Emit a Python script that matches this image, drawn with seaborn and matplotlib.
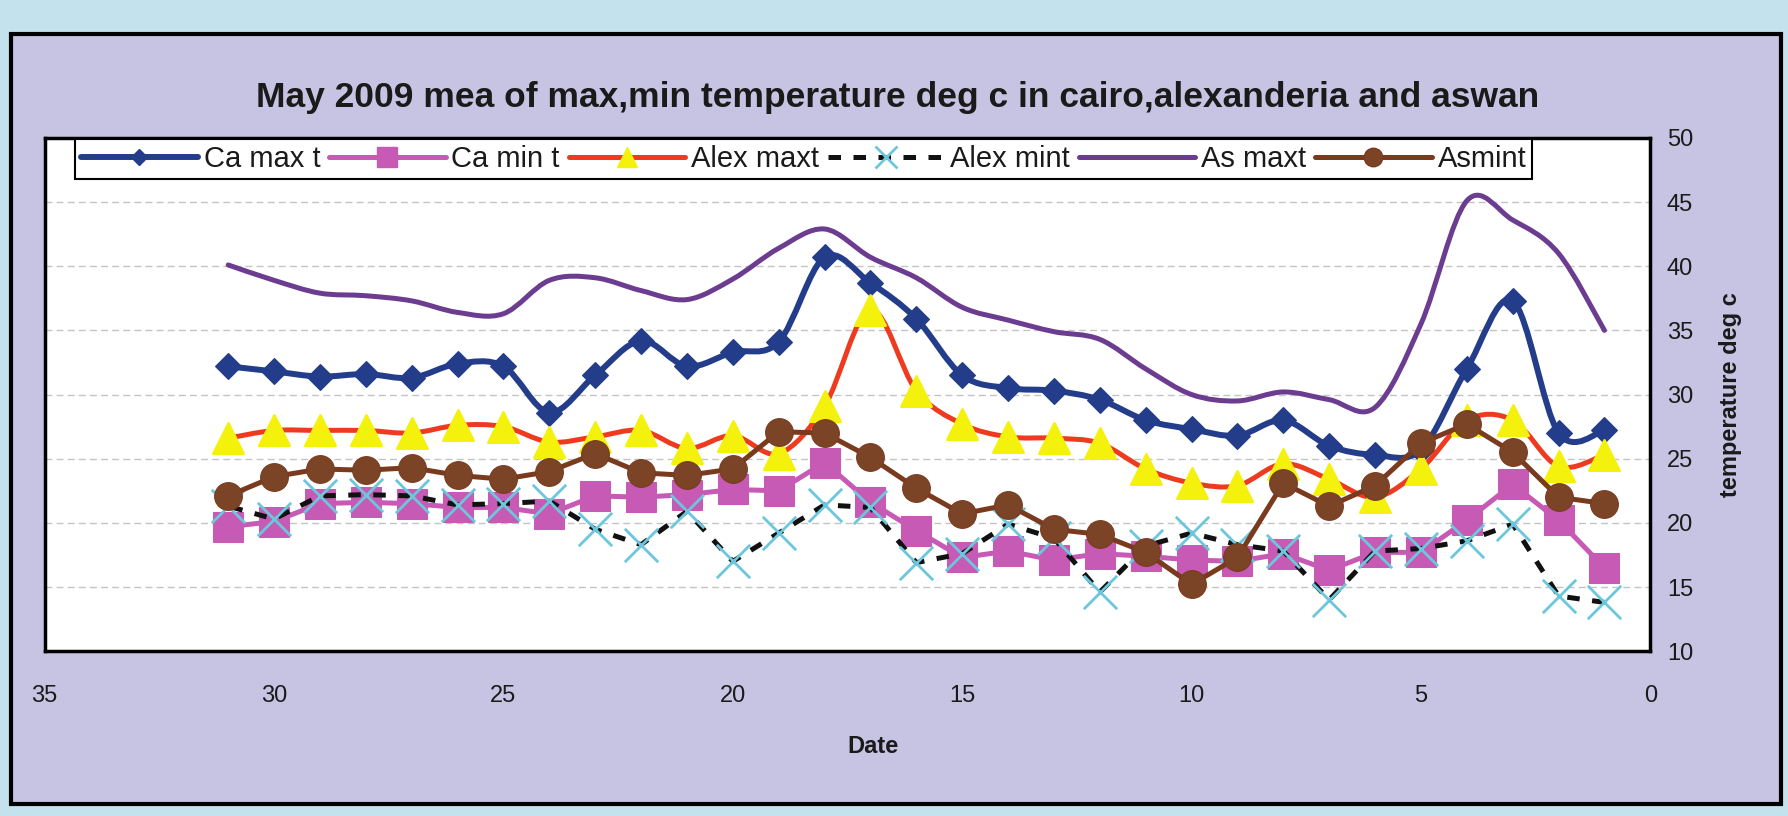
import numpy as np
import matplotlib
matplotlib.use("Agg")
import matplotlib.pyplot as plt
import seaborn as sns
from matplotlib.path import Path
from matplotlib.patches import PathPatch, Rectangle
from matplotlib.lines import Line2D

# ----------------------------- data (day 31 -> 1) ---------------------------
days = list(range(31, 0, -1))

ca_max = [32.2, 31.8, 31.4, 31.6, 31.3, 32.4, 32.2, 28.6, 31.5, 34.2, 32.2,
          33.3, 34.1, 40.7, 38.7, 35.9, 31.5, 30.5, 30.3, 29.6, 28.0, 27.3,
          26.8, 28.0, 26.0, 25.3, 25.7, 32.0, 37.3, 27.0, 27.2]
ca_min = [19.7, 20.1, 21.5, 21.6, 21.5, 21.2, 21.2, 20.7, 22.1, 22.0, 22.2,
          22.6, 22.5, 24.7, 21.6, 19.4, 17.3, 17.8, 17.1, 17.6, 17.4, 17.1,
          17.0, 17.6, 16.3, 17.7, 17.7, 20.2, 23.0, 20.2, 16.5]
alex_max = [26.6, 27.2, 27.2, 27.2, 27.0, 27.6, 27.5, 26.3, 26.7, 27.2, 25.8,
            26.8, 25.4, 29.1, 36.6, 30.3, 27.7, 26.7, 26.6, 26.2, 24.2, 23.1,
            22.9, 24.6, 23.4, 22.0, 24.2, 28.0, 28.0, 24.4, 25.3]
alex_min = [21.3, 20.3, 22.1, 22.2, 22.1, 21.4, 21.5, 21.7, 19.5, 18.3, 20.9,
            17.0, 19.2, 21.4, 21.2, 16.9, 17.6, 19.9, 18.8, 14.6, 18.2, 19.2,
            18.3, 17.8, 14.0, 17.8, 18.0, 18.6, 19.9, 14.3, 13.8]
as_max = [40.1, 38.9, 37.9, 37.7, 37.3, 36.4, 36.3, 38.9, 39.1, 38.1, 37.4,
          39.0, 41.4, 42.9, 40.7, 39.1, 36.8, 35.8, 34.9, 34.3, 32.0, 30.0,
          29.5, 30.2, 29.6, 29.0, 35.5, 45.1, 43.6, 41.0, 35.0]
as_min = [22.1, 23.6, 24.2, 24.1, 24.3, 23.7, 23.4, 24.0, 25.4, 23.9, 23.7,
          24.2, 27.1, 27.0, 25.1, 22.7, 20.7, 21.4, 19.5, 19.1, 17.7, 15.2,
          17.3, 23.1, 21.3, 22.9, 26.2, 27.7, 25.5, 22.0, 21.5]

labels = ["Ca max t", "Ca min t", "Alex maxt", "Alex mint", "As maxt", "Asmint"]
x_ticks = [0, 5, 10, 15, 20, 25, 30, 35]
y_ticks = [10, 15, 20, 25, 30, 35, 40, 45, 50]

# colours
NAVY = "#233d8a"
PINK = "#c65ab4"
RED = "#ee3b1f"
YELLOW = "#f4f20c"
CYAN = "#6cc6dc"
PURPLE = "#6b3c90"
BROWN = "#7a3a1e"
BROWN_FILL = "#7b4426"
LAVENDER = "#c7c4e3"
OUTER = "#c4e2ee"
INK = "#1a1a1a"


def smooth_path(x, y):
    """Excel-style smoothed line: cubic Bezier through every data point."""
    x = np.asarray(x, float)
    y = np.asarray(y, float)
    n = len(x)
    verts = [(x[0], y[0])]
    codes = [Path.MOVETO]
    for i in range(n - 1):
        i0 = max(i - 1, 0)
        i3 = min(i + 2, n - 1)
        c1 = (x[i] + (x[i + 1] - x[i0]) / 6, y[i] + (y[i + 1] - y[i0]) / 6)
        c2 = (x[i + 1] - (x[i3] - x[i]) / 6, y[i + 1] - (y[i3] - y[i]) / 6)
        verts += [c1, c2, (x[i + 1], y[i + 1])]
        codes += [Path.CURVE4] * 3
    return Path(verts, codes)


sns.set_theme(style="white")
plt.rcParams["font.family"] = ["Liberation Sans", "DejaVu Sans"]
plt.rcParams["text.color"] = INK
plt.rcParams["xtick.color"] = INK
plt.rcParams["ytick.color"] = INK

fig = plt.figure(figsize=(17.88, 8.16), dpi=100)
fig.patch.set_facecolor(OUTER)
fig.add_artist(Rectangle((0.006, 0.015), 0.99, 0.943, transform=fig.transFigure,
                         facecolor=LAVENDER, edgecolor="black", lw=3, zorder=0))

ax = fig.add_axes([0.025, 0.202, 0.898, 0.629])
ax.set_facecolor("white")

# Ca max t (smoothed, diamonds)
ax.add_patch(PathPatch(smooth_path(days, ca_max), facecolor="none", edgecolor=NAVY,
                       lw=4.3, joinstyle="round", capstyle="round", zorder=2))
sns.scatterplot(x=days, y=ca_max, ax=ax, marker="D", s=13 ** 2, color=NAVY,
                edgecolor=NAVY, zorder=3, legend=False)

# Ca min t (squares)
sns.lineplot(x=days, y=ca_min, ax=ax, color=PINK, lw=3.6, marker="s", markersize=21,
             markeredgecolor=PINK, errorbar=None, zorder=4, legend=False)

# Alex maxt (smoothed red line, yellow triangles)
ax.add_patch(PathPatch(smooth_path(days, alex_max), facecolor="none", edgecolor=RED,
                       lw=3.6, joinstyle="round", capstyle="round", zorder=6))
sns.scatterplot(x=days, y=alex_max, ax=ax, marker="^", s=22 ** 2, color=YELLOW,
                edgecolor=YELLOW, zorder=7, legend=False)

# Alex mint (black dashes, cyan crosses)
sns.lineplot(x=days, y=alex_min, ax=ax, color="#111111", lw=3.6,
             linestyle=(0, (2.5, 2.5)), errorbar=None, zorder=8, legend=False)
sns.scatterplot(x=days, y=alex_min, ax=ax, marker="x", s=24 ** 2, color=CYAN,
                linewidth=2, zorder=9, legend=False)

# As maxt (smoothed, no markers)
ax.add_patch(PathPatch(smooth_path(days, as_max), facecolor="none", edgecolor=PURPLE,
                       lw=3.6, joinstyle="round", capstyle="round", zorder=10))

# Asmint (circles)
sns.lineplot(x=days, y=as_min, ax=ax, color=BROWN, lw=3.6, marker="o", markersize=20,
             markerfacecolor=BROWN_FILL, markeredgecolor=BROWN, errorbar=None,
             zorder=12, legend=False)

ax.set_xlim(35, 0)
ax.set_ylim(10, 50)
ax.set_xticks(x_ticks)
ax.set_yticks(y_ticks)
ax.yaxis.tick_right()
ax.tick_params(axis="x", length=0, labelsize=17, pad=24)
ax.tick_params(axis="y", length=0, labelsize=17, pad=12)
ax.set_xlabel("")
ax.set_ylabel("")
ax.yaxis.grid(True, color="#c4c4c4", linestyle=(0, (5, 3)), lw=1)
ax.xaxis.grid(False)
for sp in ax.spines.values():
    sp.set_color("black")
    sp.set_linewidth(2.5)

handles = [
    Line2D([], [], color=NAVY, lw=4.3, marker="D", markersize=11, mfc=NAVY, mec=NAVY),
    Line2D([], [], color=PINK, lw=3.6, marker="s", markersize=21, mfc=PINK, mec=PINK),
    Line2D([], [], color=RED, lw=3.6, marker="^", markersize=21, mfc=YELLOW, mec=YELLOW),
    Line2D([], [], color="#111111", lw=3.6, linestyle=(0, (2.5, 2.5)), marker="x",
           markersize=22, mec=CYAN, mew=2),
    Line2D([], [], color=PURPLE, lw=3.6),
    Line2D([], [], color=BROWN, lw=3.6, marker="o", markersize=19, mfc=BROWN_FILL, mec=BROWN),
]
leg = ax.legend(handles, labels, loc="upper left", bbox_to_anchor=(0.019, 0.998),
                ncol=6, frameon=True, fancybox=False, edgecolor="black", framealpha=1,
                fontsize=21, handlelength=4.0, handletextpad=0.2, columnspacing=0.3,
                borderpad=0.2, borderaxespad=0, markerscale=0.7)
leg.get_frame().set_linewidth(1.5)
leg.set_zorder(20)

fig.text(0.502, 0.881,
         "May 2009 mea of max,min temperature deg c in cairo,alexanderia and aswan",
         ha="center", va="center", fontsize=25.5, fontweight="bold")
fig.text(0.488, 0.085, "Date", ha="center", va="center", fontsize=17, fontweight="bold")
fig.text(0.968, 0.517, "temperature deg c", ha="center", va="center", rotation=90,
         fontsize=17, fontweight="bold")

fig.savefig("out.png", dpi=100, facecolor=fig.get_facecolor())
